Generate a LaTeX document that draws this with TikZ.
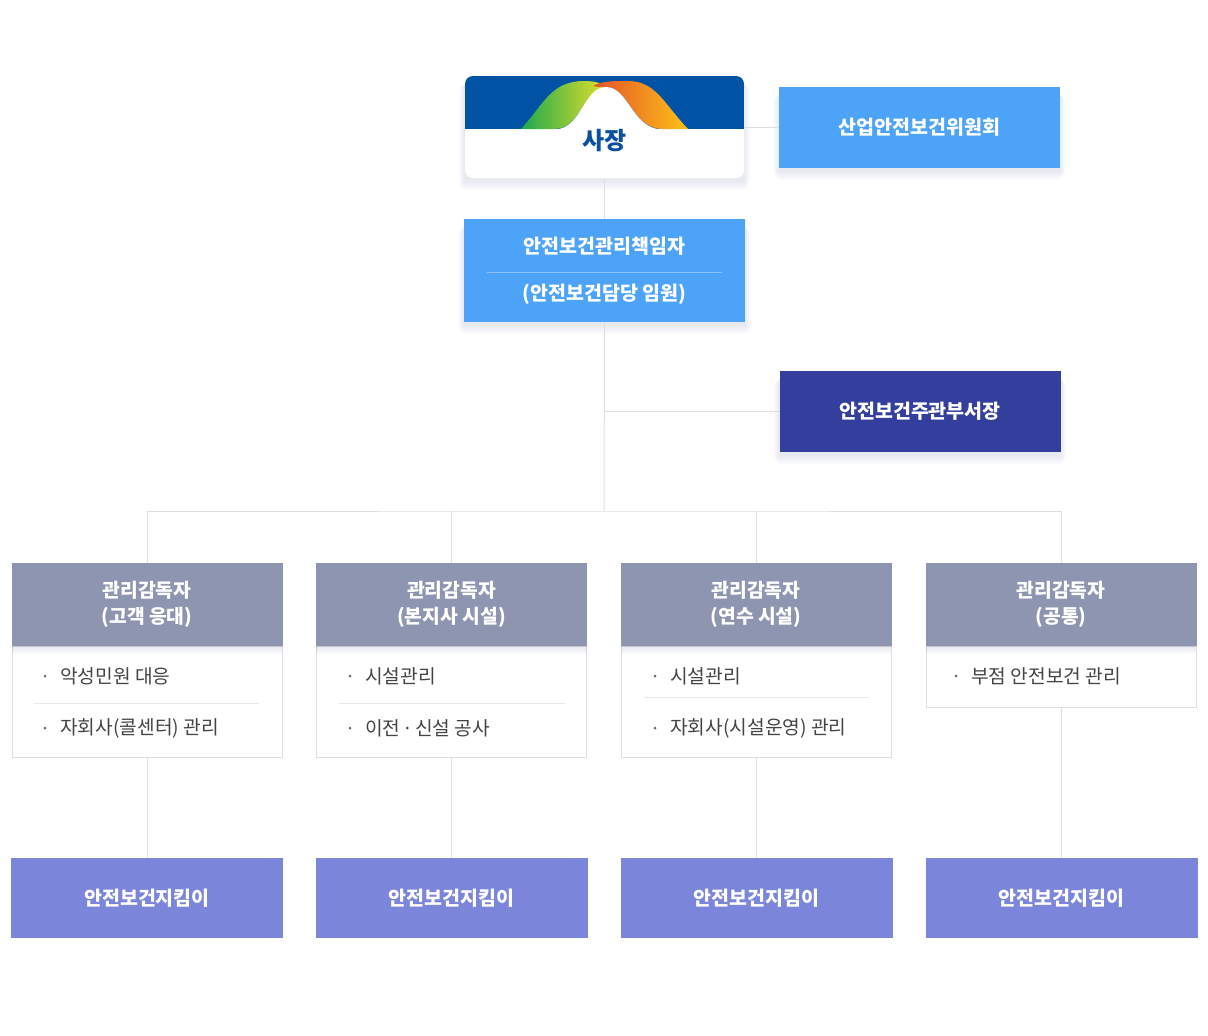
\documentclass[tikz,border=0pt]{standalone}
\usepackage{fontspec}
\setmainfont{Noto Sans CJK KR}
\definecolor{band}{HTML}{0052A4}
\definecolor{lblue}{HTML}{4DA3F7}
\definecolor{navy}{HTML}{343E9C}
\definecolor{headgray}{HTML}{8E95B0}
\definecolor{keeper}{HTML}{7B86DB}
\definecolor{conn}{HTML}{DEDEDE}
\definecolor{itemtxt}{HTML}{444444}
\definecolor{ceotxt}{HTML}{0A4FA0}
\definecolor{gA}{HTML}{1EA84E}
\definecolor{gB}{HTML}{E4E12A}
\definecolor{oA}{HTML}{E3522A}
\definecolor{oB}{HTML}{FDC216}
\definecolor{shcol}{HTML}{3A4A90}
\pgfdeclarelayer{bg}
\pgfsetlayers{bg,main}
\newcommand{\softshadowof}[1]{%
  \begin{pgfonlayer}{bg}
    \foreach \k in {1,...,10}{%
      \fill[shcol,opacity=0.013,rounded corners=\k pt]
        ([xshift={-0.6pt*\k},yshift={-3pt-\k pt}]#1.south west) rectangle
        ([xshift={0.6pt*\k},yshift={-8pt}]#1.north east);
    }
  \end{pgfonlayer}}
\begin{document}
\begin{tikzpicture}[x=1pt,y=-1pt,
  boxbase/.style={rectangle,inner sep=0pt,outer sep=0pt,text=white,font=\bfseries\fontsize{19.5}{22}\selectfont},
  lightbox/.style={boxbase,fill=lblue},
  navybox/.style={boxbase,fill=navy},
  headbox/.style={boxbase,fill=headgray,minimum width=271pt,minimum height=83pt,align=center,font=\bfseries\fontsize{19.3}{26}\selectfont},
  listbox/.style={rectangle,draw=conn,line width=1pt,fill=white,minimum width=270pt,inner sep=0pt},
  keepbox/.style={boxbase,fill=keeper,minimum width=272pt,minimum height=80pt},
  item/.style={anchor=west,inner sep=0pt,text=itemtxt,font=\fontsize{19.2}{22}\selectfont},
  dot/.style={fill=itemtxt!80},
  connector/.style={draw=conn,line width=1pt},
  divider/.style={draw=conn!70,line width=0.8pt}
]
\useasboundingbox (0,0) rectangle (1208,1036);

\coordinate (bar) at (604,511);

% CEO box
\node[rectangle,rounded corners=8pt,fill=white,minimum width=279pt,minimum height=102pt] (ceo) at (604.5,127) {};
\softshadowof{ceo}
\begin{scope}
  \clip[rounded corners=8pt] (465,76) rectangle (744,178);
  \fill[band] (465,76) rectangle (744,128.5);
  \shade[left color=gA,right color=gB]
    (521,129) .. controls (544,104) and (551,81) .. (584,81)
    .. controls (597,81) and (603,84) .. (607,87)
    .. controls (583,87) and (582,129) .. (554,129) -- cycle;
  \shade[left color=oA,right color=oB]
    (593,86) .. controls (602,81) and (612,81) .. (628,81)
    .. controls (656,81) and (664,104) .. (688,129)
    -- (663,129) .. controls (632,129) and (629,87) .. (606,87)
    .. controls (601,87) and (597,87) .. (593,86) -- cycle;
  \fill[white] (554,129.5) .. controls (582,129.5) and (583,87) .. (606,87)
    .. controls (629,87) and (632,129.5) .. (663,129.5) -- cycle;
\end{scope}
\node[text=ceotxt,font=\bfseries\fontsize{24}{26}\selectfont,inner sep=0pt] (ceot) at (604.5,141) {사장};

% committee
\node[lightbox,minimum width=281pt,minimum height=81pt] (comm) at (919.5,127) {산업안전보건위원회};
\softshadowof{comm}

% safety manager
\node[lightbox,minimum width=281pt,minimum height=103pt] (mgr) at (604.5,270.5) {};
\softshadowof{mgr}
\node[text=white,font=\bfseries\fontsize{19.5}{22}\selectfont,inner sep=0pt] (mgr1) at (604.5,246) {안전보건관리책임자};
\node[text=white,font=\bfseries\fontsize{19.5}{22}\selectfont,inner sep=0pt] (mgr2) at (604.5,294) {(안전보건담당 임원)};
\draw[white,opacity=0.35,line width=0.8pt] (487,272) -- (722,272);

% department head
\node[navybox,minimum width=281pt,minimum height=81pt] (dept) at (920,411.5) {안전보건주관부서장};
\softshadowof{dept}

% list boxes
\node[listbox,minimum height=111pt] (l1) at (147,701.5) {};
\node[listbox,minimum height=111pt] (l2) at (451.5,701.5) {};
\node[listbox,minimum height=111pt] (l3) at (756,701.5) {};
\node[listbox,minimum height=61pt] (l4) at (1061,676.5) {};

% header boxes
\node[headbox] (h1) at (147,604.5) {관리감독자\\(고객 응대)};
\node[headbox] (h2) at (451.5,604.5) {관리감독자\\(본지사 시설)};
\node[headbox] (h3) at (756,604.5) {관리감독자\\(연수 시설)};
\node[headbox] (h4) at (1061,604.5) {관리감독자\\(공통)};
\begin{scope}
  \clip (0,640) rectangle (1208,700);
  \foreach \k in {1,...,8}{
    \fill[shcol,opacity=0.014] (12,646) rectangle (282,{646+\k});
    \fill[shcol,opacity=0.014] (316,646) rectangle (587,{646+\k});
    \fill[shcol,opacity=0.014] (621,646) rectangle (891,{646+\k});
    \fill[shcol,opacity=0.014] (926,646) rectangle (1196,{646+\k});
  }
\end{scope}

% keepers
\node[keepbox] (b1) at (147,898) {안전보건지킴이};
\node[keepbox] (b2) at (451.5,898) {안전보건지킴이};
\node[keepbox] (b3) at (756.5,898) {안전보건지킴이};
\node[keepbox] (b4) at (1061.5,898) {안전보건지킴이};

% connectors
\begin{pgfonlayer}{bg}
\draw[connector] (ceo.south) -- (mgr.north);
\draw[connector] (ceo.east) -- (comm.west);
\draw[connector] (mgr.south) -- (bar);
\draw[connector] (mgr.south |- dept.west) -- (dept.west);
\draw[connector] (h1.north) |- (bar) -| (h4.north);
\draw[connector] (h2.north) -- (h2.north |- bar);
\draw[connector] (h3.north) -- (h3.north |- bar);
\draw[connector] (l1.south) -- (l1.south |- b1.north);
\draw[connector] (l2.south) -- (l2.south |- b2.north);
\draw[connector] (l3.south) -- (l3.south |- b3.north);
\draw[connector] (l4.south) -- (l4.south |- b4.north);
\end{pgfonlayer}

% list items
\fill[dot] (45,676) circle (1.5pt);
\node[item] (i11) at (60,676) {악성민원 대응};
\draw[divider] (34,703) -- (259,703);
\fill[dot] (45,728) circle (1.5pt);
\node[item] (i12) at (60,728) {자회사(콜센터) 관리};

\fill[dot] (350,676) circle (1.5pt);
\node[item] (i21) at (365,676) {시설관리};
\draw[divider] (339,703) -- (565,703);
\fill[dot] (350,728) circle (1.5pt);
\node[item] (i22) at (365,728) {이전\kern2pt·\kern2pt신설 공사};

\fill[dot] (655,676) circle (1.5pt);
\node[item] (i31) at (670,676) {시설관리};
\draw[divider] (644,697) -- (869,697);
\fill[dot] (655,728) circle (1.5pt);
\node[item] (i32) at (670,728) {자회사(시설운영) 관리};

\fill[dot] (956,676) circle (1.5pt);
\node[item] (i41) at (971,676) {부점 안전보건 관리};
\end{tikzpicture}
\end{document}
